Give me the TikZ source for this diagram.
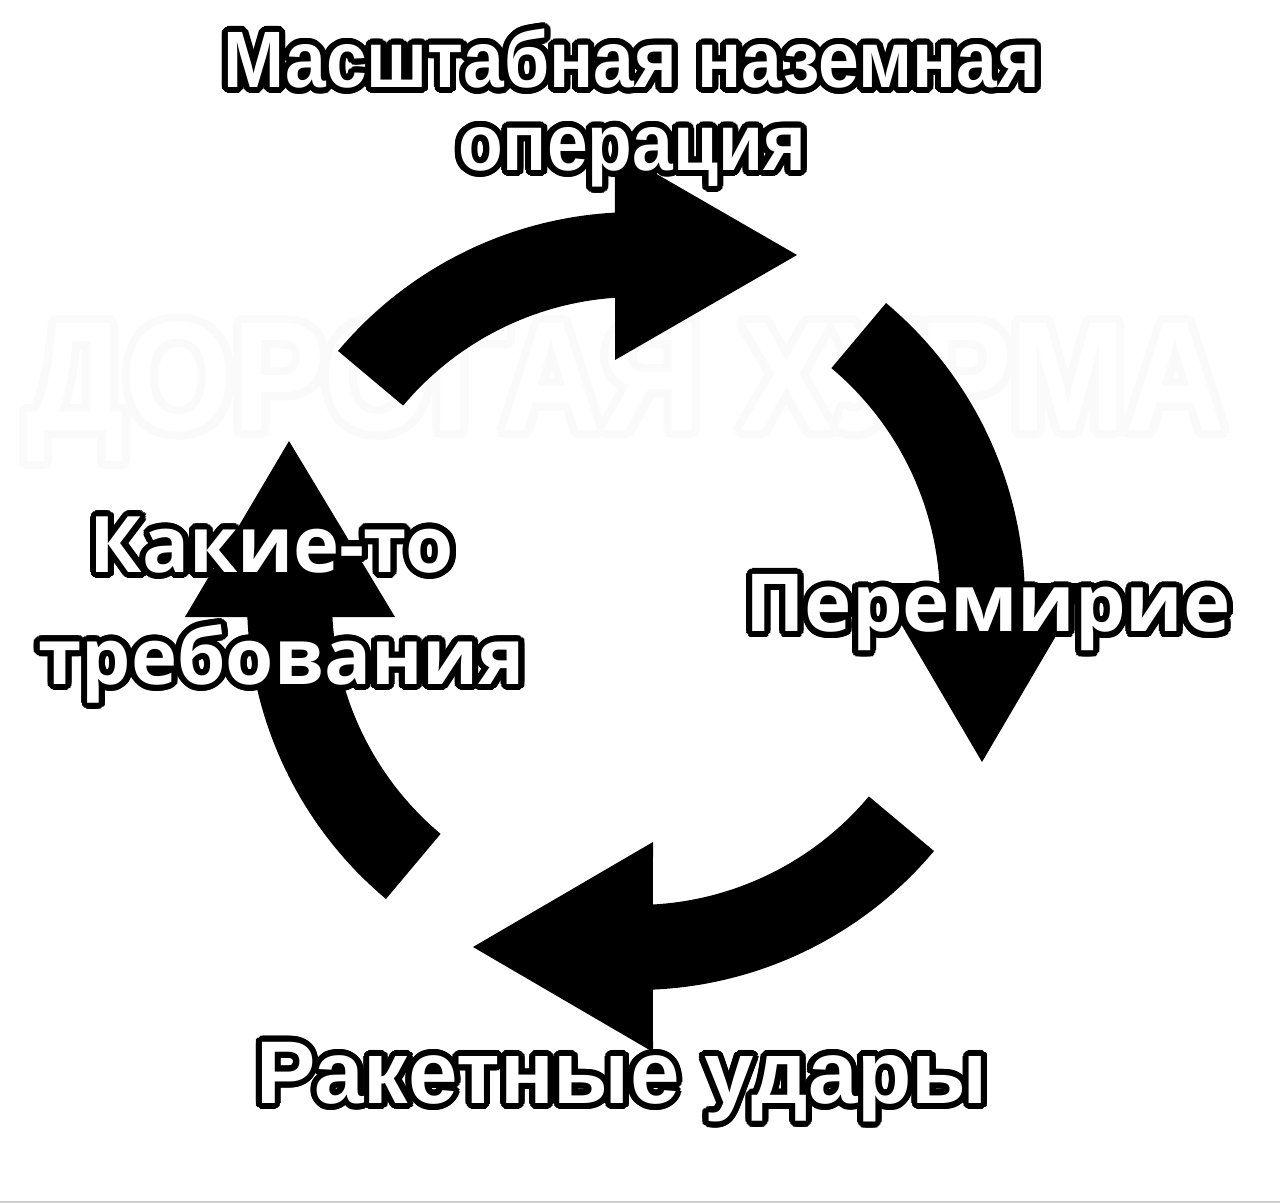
\documentclass[tikz,border=0pt]{standalone}
\usepackage{fontspec}
\newfontfamily\fa{Liberation Sans}
\newfontfamily\fb{Open Sans}
\usetikzlibrary{calc}
\tikzset{
  arrowfill/.style={fill=black},
  otxt/.style={inner sep=0pt, align=center},
  fonttop/.style={font=\fa\bfseries\fontsize{40}{41.5}\selectfont, xscale=0.915},
  fontbot/.style={font=\fa\bfseries\fontsize{44.5}{46}\selectfont},
  fontside/.style={font=\fb\bfseries\fontsize{39}{56}\selectfont},
  fontright/.style={font=\fb\bfseries\fontsize{40}{44}\selectfont},
  watermark/.style={font=\fa\bfseries\fontsize{78}{80}\selectfont, inner sep=0pt, xscale=0.89},
}
\newcommand{\otext}[4]{%
  \foreach \ang in {0,15,...,345}{\node[otxt,#3,text=black] at ($(#2)+(\ang:6)$) {#4};}
  \node[otxt,#3,text=white] (#1) at (#2) {#4};
}
\begin{document}
\begin{tikzpicture}[x=0.5pt,y=-0.5pt]
\useasboundingbox (0,0) rectangle (1280,1203);
\fill[white] (0,0) rectangle (1280,1203);
\fill[black!20] (0,1200.5) rectangle (1280,1203);
% watermark (faint outlined white letters)
\foreach \ang in {0,20,...,340}{\node[watermark,text=black!2] at ($(626,392)+(\ang:8)$) {ДОРОГАЯ ХУРМА};}
\node[watermark,text=white] (wm) at (626,392) {ДОРОГАЯ ХУРМА};
% top arrow
\fill[arrowfill] plot[domain=-140:-93.1,samples=40] ({636+389*cos(\x)},{601+389*sin(\x)})
  -- (615,150) -- (797,255) -- (615,360)
  -- plot[domain=-93.96:-140,samples=40] ({636+304*cos(\x)},{601+304*sin(\x)}) -- cycle;
% right arrow
\fill[arrowfill] plot[domain=-50:-2.65,samples=40] ({636+389*cos(\x)},{601+389*sin(\x)})
  -- (1087,583) -- (982,762) -- (877,583)
  -- plot[domain=-3.39:-50,samples=40] ({636+304*cos(\x)},{601+304*sin(\x)}) -- cycle;
% bottom arrow
\fill[arrowfill] plot[domain=40:87.5,samples=40] ({636+389*cos(\x)},{601+389*sin(\x)})
  -- (653,1052) -- (473,947) -- (653,842)
  -- plot[domain=86.8:40,samples=40] ({636+304*cos(\x)},{601+304*sin(\x)}) -- cycle;
% left arrow
\fill[arrowfill] plot[domain=130:177.64,samples=40] ({636+389*cos(\x)},{601+389*sin(\x)})
  -- (185,617) -- (289,441) -- (395,617)
  -- plot[domain=176.98:130,samples=40] ({636+304*cos(\x)},{601+304*sin(\x)}) -- cycle;
% labels
\otext{top}{632,108}{fonttop}{Масштабная наземная\\операция}
\otext{left}{282,610}{fontside}{Какие-то\kern10pt\\требования}
\otext{right}{988,613}{fontright}{Перемирие}
\otext{bottom}{622,1082}{fontbot}{Ракетные удары}
\end{tikzpicture}
\end{document}
